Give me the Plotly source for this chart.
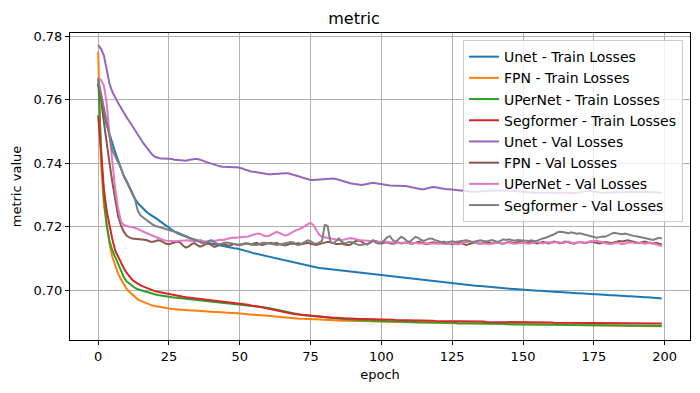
import plotly.graph_objects as go

epochs = list(range(200))

unet_train = [
0.7650, 0.7600, 0.7560, 0.7520, 0.7490, 0.7460, 0.7435, 0.7410, 0.7385, 0.7360,
0.7345, 0.7325, 0.7305, 0.7288, 0.7274, 0.7264, 0.7255, 0.7247, 0.7240, 0.7235,
0.7230, 0.7223, 0.7216, 0.7209, 0.7202, 0.7195, 0.7189, 0.7184, 0.7179, 0.7175,
0.7171, 0.7168, 0.7165, 0.7162, 0.7159, 0.7157, 0.7155, 0.7152, 0.7150, 0.7148,
0.7146, 0.7144, 0.7142, 0.7140, 0.7138, 0.7137, 0.7135, 0.7134, 0.7132, 0.7131,
0.7129, 0.7126, 0.7124, 0.7121, 0.7119, 0.7116, 0.7114, 0.7111, 0.7109, 0.7107,
0.7105, 0.7102, 0.7100, 0.7098, 0.7096, 0.7094, 0.7092, 0.7090, 0.7088, 0.7086,
0.7084, 0.7082, 0.7080, 0.7078, 0.7076, 0.7074, 0.7073, 0.7072, 0.7070, 0.7069,
0.7068, 0.7067, 0.7065, 0.7064, 0.7063, 0.7062, 0.7061, 0.7059, 0.7058, 0.7057,
0.7056, 0.7055, 0.7054, 0.7053, 0.7052, 0.7051, 0.7050, 0.7049, 0.7048, 0.7047,
0.7046, 0.7045, 0.7044, 0.7043, 0.7042, 0.7041, 0.7040, 0.7039, 0.7038, 0.7037,
0.7036, 0.7035, 0.7034, 0.7033, 0.7032, 0.7031, 0.7030, 0.7029, 0.7028, 0.7027,
0.7026, 0.7025, 0.7024, 0.7023, 0.7022, 0.7021, 0.7020, 0.7019, 0.7018, 0.7018,
0.7017, 0.7016, 0.7015, 0.7014, 0.7013, 0.7013, 0.7012, 0.7011, 0.7010, 0.7009,
0.7009, 0.7008, 0.7007, 0.7006, 0.7006, 0.7005, 0.7004, 0.7004, 0.7003, 0.7002,
0.7002, 0.7001, 0.7000, 0.7000, 0.6999, 0.6998, 0.6998, 0.6997, 0.6997, 0.6996,
0.6995, 0.6995, 0.6994, 0.6994, 0.6993, 0.6993, 0.6992, 0.6991, 0.6991, 0.6990,
0.6990, 0.6989, 0.6989, 0.6988, 0.6988, 0.6987, 0.6987, 0.6986, 0.6986, 0.6985,
0.6985, 0.6984, 0.6984, 0.6983, 0.6983, 0.6982, 0.6982, 0.6981, 0.6981, 0.6980,
0.6980, 0.6979, 0.6979, 0.6978, 0.6978, 0.6977, 0.6977, 0.6976, 0.6975, 0.6974,
]

fpn_train = [
0.7750, 0.7400, 0.7270, 0.7200, 0.7145, 0.7105, 0.7075, 0.7053, 0.7035, 0.7018,
0.7005, 0.6995, 0.6986, 0.6978, 0.6971, 0.6966, 0.6962, 0.6958, 0.6955, 0.6952,
0.6950, 0.6948, 0.6946, 0.6944, 0.6943, 0.6942, 0.6941, 0.6940, 0.6940, 0.6939,
0.6938, 0.6938, 0.6937, 0.6936, 0.6936, 0.6935, 0.6934, 0.6934, 0.6933, 0.6933,
0.6932, 0.6931, 0.6931, 0.6930, 0.6930, 0.6929, 0.6929, 0.6928, 0.6928, 0.6927,
0.6927, 0.6926, 0.6925, 0.6925, 0.6924, 0.6923, 0.6922, 0.6921, 0.6921, 0.6920,
0.6919, 0.6918, 0.6917, 0.6916, 0.6915, 0.6914, 0.6913, 0.6912, 0.6912, 0.6911,
0.6911, 0.6910, 0.6910, 0.6909, 0.6909, 0.6908, 0.6908, 0.6908, 0.6907, 0.6907,
0.6906, 0.6906, 0.6906, 0.6905, 0.6905, 0.6905, 0.6904, 0.6904, 0.6904, 0.6903,
0.6903, 0.6903, 0.6903, 0.6902, 0.6902, 0.6902, 0.6902, 0.6901, 0.6901, 0.6901,
0.6901, 0.6901, 0.6900, 0.6900, 0.6900, 0.6900, 0.6900, 0.6899, 0.6899, 0.6899,
0.6899, 0.6899, 0.6898, 0.6899, 0.6898, 0.6898, 0.6898, 0.6897, 0.6898, 0.6897,
0.6897, 0.6897, 0.6896, 0.6897, 0.6896, 0.6896, 0.6896, 0.6895, 0.6896, 0.6895,
0.6896, 0.6896, 0.6896, 0.6895, 0.6896, 0.6895, 0.6895, 0.6895, 0.6895, 0.6894,
0.6895, 0.6894, 0.6894, 0.6894, 0.6894, 0.6893, 0.6894, 0.6893, 0.6893, 0.6893,
0.6893, 0.6893, 0.6892, 0.6893, 0.6892, 0.6892, 0.6892, 0.6892, 0.6891, 0.6892,
0.6891, 0.6891, 0.6891, 0.6891, 0.6891, 0.6890, 0.6891, 0.6890, 0.6890, 0.6890,
0.6890, 0.6890, 0.6889, 0.6890, 0.6889, 0.6889, 0.6889, 0.6889, 0.6889, 0.6888,
0.6889, 0.6888, 0.6888, 0.6888, 0.6888, 0.6888, 0.6888, 0.6887, 0.6888, 0.6887,
0.6887, 0.6887, 0.6887, 0.6887, 0.6887, 0.6886, 0.6887, 0.6886, 0.6886, 0.6886,
]

upernet_train = [
0.7670, 0.7450, 0.7290, 0.7205, 0.7155, 0.7125, 0.7105, 0.7085, 0.7062, 0.7042,
0.7028, 0.7020, 0.7013, 0.7007, 0.7003, 0.7000, 0.6997, 0.6994, 0.6991, 0.6989,
0.6987, 0.6985, 0.6983, 0.6981, 0.6980, 0.6979, 0.6978, 0.6977, 0.6976, 0.6975,
0.6974, 0.6973, 0.6972, 0.6971, 0.6970, 0.6969, 0.6968, 0.6967, 0.6966, 0.6966,
0.6965, 0.6964, 0.6963, 0.6962, 0.6961, 0.6960, 0.6959, 0.6958, 0.6957, 0.6957,
0.6956, 0.6955, 0.6954, 0.6953, 0.6952, 0.6951, 0.6950, 0.6949, 0.6948, 0.6946,
0.6944, 0.6942, 0.6940, 0.6938, 0.6935, 0.6933, 0.6931, 0.6929, 0.6927, 0.6926,
0.6925, 0.6923, 0.6922, 0.6921, 0.6920, 0.6919, 0.6917, 0.6916, 0.6915, 0.6914,
0.6913, 0.6912, 0.6912, 0.6911, 0.6910, 0.6909, 0.6909, 0.6908, 0.6908, 0.6907,
0.6907, 0.6906, 0.6906, 0.6905, 0.6905, 0.6905, 0.6904, 0.6904, 0.6904, 0.6903,
0.6903, 0.6903, 0.6902, 0.6902, 0.6902, 0.6901, 0.6901, 0.6901, 0.6901, 0.6900,
0.6900, 0.6900, 0.6900, 0.6899, 0.6899, 0.6899, 0.6899, 0.6898, 0.6898, 0.6898,
0.6898, 0.6898, 0.6897, 0.6897, 0.6897, 0.6897, 0.6897, 0.6896, 0.6896, 0.6896,
0.6896, 0.6896, 0.6895, 0.6895, 0.6895, 0.6895, 0.6895, 0.6895, 0.6894, 0.6894,
0.6894, 0.6894, 0.6894, 0.6894, 0.6893, 0.6893, 0.6893, 0.6893, 0.6893, 0.6893,
0.6893, 0.6892, 0.6892, 0.6892, 0.6892, 0.6892, 0.6892, 0.6892, 0.6891, 0.6891,
0.6891, 0.6891, 0.6891, 0.6891, 0.6891, 0.6891, 0.6890, 0.6890, 0.6890, 0.6890,
0.6890, 0.6890, 0.6890, 0.6890, 0.6890, 0.6889, 0.6889, 0.6889, 0.6889, 0.6889,
0.6889, 0.6889, 0.6889, 0.6889, 0.6889, 0.6889, 0.6888, 0.6888, 0.6888, 0.6888,
0.6888, 0.6888, 0.6888, 0.6888, 0.6888, 0.6888, 0.6888, 0.6888, 0.6888, 0.6888,
]

segformer_train = [
0.7550, 0.7420, 0.7320, 0.7250, 0.7200, 0.7160, 0.7125, 0.7105, 0.7088, 0.7070,
0.7055, 0.7042, 0.7033, 0.7026, 0.7020, 0.7015, 0.7011, 0.7007, 0.7003, 0.7000,
0.6997, 0.6995, 0.6993, 0.6991, 0.6989, 0.6987, 0.6985, 0.6984, 0.6982, 0.6981,
0.6979, 0.6978, 0.6977, 0.6975, 0.6974, 0.6973, 0.6972, 0.6971, 0.6970, 0.6969,
0.6968, 0.6967, 0.6966, 0.6965, 0.6964, 0.6963, 0.6962, 0.6961, 0.6960, 0.6959,
0.6958, 0.6957, 0.6955, 0.6954, 0.6952, 0.6951, 0.6949, 0.6948, 0.6946, 0.6944,
0.6942, 0.6940, 0.6938, 0.6936, 0.6933, 0.6931, 0.6929, 0.6928, 0.6926, 0.6925,
0.6924, 0.6923, 0.6922, 0.6921, 0.6920, 0.6919, 0.6918, 0.6917, 0.6916, 0.6915,
0.6915, 0.6914, 0.6914, 0.6913, 0.6913, 0.6912, 0.6912, 0.6911, 0.6911, 0.6911,
0.6910, 0.6910, 0.6910, 0.6909, 0.6909, 0.6909, 0.6909, 0.6908, 0.6908, 0.6908,
0.6908, 0.6907, 0.6907, 0.6907, 0.6907, 0.6906, 0.6906, 0.6906, 0.6906, 0.6905,
0.6905, 0.6905, 0.6905, 0.6905, 0.6904, 0.6904, 0.6904, 0.6904, 0.6904, 0.6903,
0.6903, 0.6903, 0.6903, 0.6903, 0.6903, 0.6902, 0.6902, 0.6902, 0.6902, 0.6902,
0.6902, 0.6901, 0.6901, 0.6901, 0.6901, 0.6901, 0.6901, 0.6900, 0.6900, 0.6900,
0.6900, 0.6900, 0.6900, 0.6900, 0.6899, 0.6899, 0.6899, 0.6899, 0.6899, 0.6899,
0.6899, 0.6899, 0.6898, 0.6898, 0.6898, 0.6898, 0.6898, 0.6898, 0.6898, 0.6898,
0.6898, 0.6897, 0.6897, 0.6897, 0.6897, 0.6897, 0.6897, 0.6897, 0.6897, 0.6897,
0.6897, 0.6897, 0.6897, 0.6897, 0.6897, 0.6896, 0.6896, 0.6896, 0.6896, 0.6896,
0.6896, 0.6896, 0.6896, 0.6896, 0.6896, 0.6896, 0.6896, 0.6896, 0.6896, 0.6896,
0.6896, 0.6896, 0.6896, 0.6896, 0.6896, 0.6896, 0.6896, 0.6895, 0.6895, 0.6895,
]

unet_val = [
0.7772, 0.7760, 0.7740, 0.7690, 0.7650, 0.7625, 0.7605, 0.7590, 0.7575, 0.7558,
0.7545, 0.7532, 0.7519, 0.7505, 0.7490, 0.7476, 0.7462, 0.7450, 0.7438, 0.7428,
0.7420, 0.7417, 0.7415, 0.7415, 0.7415, 0.7414, 0.7413, 0.7411, 0.7410, 0.7409,
0.7408, 0.7408, 0.7410, 0.7412, 0.7413, 0.7413, 0.7411, 0.7408, 0.7404, 0.7401,
0.7398, 0.7395, 0.7392, 0.7390, 0.7389, 0.7388, 0.7387, 0.7387, 0.7387, 0.7387,
0.7386, 0.7383, 0.7379, 0.7376, 0.7374, 0.7373, 0.7371, 0.7369, 0.7367, 0.7366,
0.7365, 0.7365, 0.7366, 0.7367, 0.7368, 0.7368, 0.7368, 0.7368, 0.7366, 0.7363,
0.7360, 0.7358, 0.7355, 0.7352, 0.7349, 0.7347, 0.7347, 0.7348, 0.7349, 0.7349,
0.7350, 0.7351, 0.7352, 0.7352, 0.7350, 0.7347, 0.7344, 0.7341, 0.7339, 0.7337,
0.7335, 0.7333, 0.7331, 0.7331, 0.7333, 0.7335, 0.7337, 0.7338, 0.7337, 0.7335,
0.7333, 0.7331, 0.7331, 0.7330, 0.7330, 0.7329, 0.7328, 0.7328, 0.7328, 0.7327,
0.7325, 0.7323, 0.7321, 0.7319, 0.7318, 0.7318, 0.7320, 0.7323, 0.7325, 0.7324,
0.7322, 0.7320, 0.7318, 0.7318, 0.7318, 0.7317, 0.7315, 0.7313, 0.7312, 0.7311,
0.7310, 0.7310, 0.7310, 0.7310, 0.7310, 0.7311, 0.7312, 0.7312, 0.7313, 0.7314,
0.7314, 0.7314, 0.7314, 0.7313, 0.7313, 0.7313, 0.7313, 0.7312, 0.7311, 0.7310,
0.7309, 0.7309, 0.7308, 0.7308, 0.7307, 0.7307, 0.7307, 0.7307, 0.7306, 0.7306,
0.7306, 0.7306, 0.7305, 0.7305, 0.7305, 0.7305, 0.7305, 0.7305, 0.7305, 0.7306,
0.7308, 0.7310, 0.7312, 0.7313, 0.7312, 0.7310, 0.7309, 0.7308, 0.7307, 0.7307,
0.7307, 0.7307, 0.7307, 0.7308, 0.7308, 0.7309, 0.7309, 0.7310, 0.7310, 0.7310,
0.7310, 0.7310, 0.7310, 0.7310, 0.7309, 0.7309, 0.7308, 0.7308, 0.7307, 0.7307,
]

fpn_val = [
0.7650, 0.7600, 0.7530, 0.7460, 0.7400, 0.7340, 0.7280, 0.7235, 0.7205, 0.7185,
0.7172, 0.7166, 0.7163, 0.7162, 0.7162, 0.7160, 0.7161, 0.7158, 0.7154, 0.7152,
0.7154, 0.7157, 0.7156, 0.7151, 0.7146, 0.7145, 0.7148, 0.7152, 0.7153, 0.7150,
0.7140, 0.7134, 0.7138, 0.7145, 0.7148, 0.7142, 0.7137, 0.7140, 0.7146, 0.7147,
0.7141, 0.7136, 0.7139, 0.7145, 0.7146, 0.7143, 0.7140, 0.7142, 0.7145, 0.7143,
0.7142, 0.7144, 0.7147, 0.7146, 0.7143, 0.7147, 0.7149, 0.7144, 0.7142, 0.7145,
0.7148, 0.7149, 0.7146, 0.7149, 0.7145, 0.7142, 0.7141, 0.7144, 0.7147, 0.7146,
0.7147, 0.7148, 0.7145, 0.7147, 0.7149, 0.7146, 0.7143, 0.7142, 0.7145, 0.7148,
0.7150, 0.7152, 0.7152, 0.7148, 0.7145, 0.7145, 0.7147, 0.7144, 0.7142, 0.7143,
0.7150, 0.7155, 0.7157, 0.7153, 0.7146, 0.7145, 0.7149, 0.7156, 0.7155, 0.7150,
0.7147, 0.7149, 0.7151, 0.7148, 0.7146, 0.7148, 0.7150, 0.7147, 0.7149, 0.7151,
0.7148, 0.7146, 0.7149, 0.7152, 0.7150, 0.7147, 0.7145, 0.7148, 0.7151, 0.7149,
0.7147, 0.7150, 0.7152, 0.7149, 0.7146, 0.7144, 0.7147, 0.7150, 0.7148, 0.7145,
0.7142, 0.7145, 0.7149, 0.7151, 0.7148, 0.7146, 0.7149, 0.7152, 0.7150, 0.7147,
0.7149, 0.7151, 0.7148, 0.7146, 0.7149, 0.7152, 0.7150, 0.7148, 0.7151, 0.7153,
0.7150, 0.7148, 0.7151, 0.7153, 0.7150, 0.7147, 0.7149, 0.7152, 0.7150, 0.7147,
0.7150, 0.7153, 0.7151, 0.7148, 0.7150, 0.7153, 0.7151, 0.7148, 0.7146, 0.7149,
0.7152, 0.7150, 0.7148, 0.7151, 0.7153, 0.7151, 0.7149, 0.7147, 0.7150, 0.7152,
0.7150, 0.7148, 0.7150, 0.7153, 0.7155, 0.7153, 0.7156, 0.7157, 0.7155, 0.7152,
0.7150, 0.7148, 0.7151, 0.7153, 0.7150, 0.7148, 0.7147, 0.7149, 0.7146, 0.7144,
]

upernet_val = [
0.7670, 0.7662, 0.7645, 0.7590, 0.7490, 0.7400, 0.7320, 0.7260, 0.7218, 0.7205,
0.7202, 0.7200, 0.7199, 0.7197, 0.7193, 0.7188, 0.7183, 0.7180, 0.7176, 0.7172,
0.7168, 0.7164, 0.7161, 0.7158, 0.7156, 0.7155, 0.7154, 0.7154, 0.7155, 0.7156,
0.7157, 0.7158, 0.7157, 0.7155, 0.7154, 0.7156, 0.7158, 0.7155, 0.7153, 0.7154,
0.7156, 0.7155, 0.7157, 0.7159, 0.7157, 0.7160, 0.7163, 0.7165, 0.7166, 0.7165,
0.7167, 0.7168, 0.7167, 0.7169, 0.7172, 0.7175, 0.7178, 0.7178, 0.7174, 0.7170,
0.7170, 0.7175, 0.7180, 0.7184, 0.7180, 0.7175, 0.7172, 0.7174, 0.7180, 0.7186,
0.7190, 0.7192, 0.7196, 0.7202, 0.7208, 0.7212, 0.7205, 0.7190, 0.7175, 0.7168,
0.7166, 0.7164, 0.7163, 0.7162, 0.7160, 0.7158, 0.7157, 0.7159, 0.7162, 0.7164,
0.7163, 0.7160, 0.7158, 0.7157, 0.7156, 0.7157, 0.7155, 0.7153, 0.7152, 0.7153,
0.7152, 0.7153, 0.7152, 0.7150, 0.7151, 0.7150, 0.7148, 0.7149, 0.7150, 0.7149,
0.7147, 0.7148, 0.7149, 0.7147, 0.7146, 0.7147, 0.7148, 0.7146, 0.7147, 0.7148,
0.7147, 0.7146, 0.7147, 0.7145, 0.7146, 0.7148, 0.7146, 0.7144, 0.7147, 0.7150,
0.7152, 0.7153, 0.7151, 0.7149, 0.7147, 0.7146, 0.7148, 0.7147, 0.7145, 0.7147,
0.7149, 0.7150, 0.7148, 0.7146, 0.7149, 0.7151, 0.7148, 0.7146, 0.7147, 0.7149,
0.7150, 0.7148, 0.7146, 0.7148, 0.7151, 0.7152, 0.7149, 0.7147, 0.7150, 0.7151,
0.7149, 0.7150, 0.7152, 0.7150, 0.7148, 0.7151, 0.7153, 0.7150, 0.7148, 0.7150,
0.7152, 0.7151, 0.7149, 0.7152, 0.7155, 0.7154, 0.7156, 0.7153, 0.7150, 0.7148,
0.7146, 0.7145, 0.7148, 0.7150, 0.7148, 0.7145, 0.7147, 0.7150, 0.7151, 0.7149,
0.7148, 0.7150, 0.7149, 0.7146, 0.7148, 0.7150, 0.7147, 0.7144, 0.7140, 0.7139,
]

segformer_val = [
0.7665, 0.7620, 0.7565, 0.7520, 0.7475, 0.7440, 0.7422, 0.7405, 0.7385, 0.7360,
0.7342, 0.7325, 0.7305, 0.7285, 0.7250, 0.7235, 0.7228, 0.7221, 0.7214, 0.7208,
0.7203, 0.7200, 0.7198, 0.7195, 0.7192, 0.7189, 0.7186, 0.7184, 0.7182, 0.7178,
0.7174, 0.7170, 0.7164, 0.7160, 0.7158, 0.7155, 0.7150, 0.7147, 0.7150, 0.7155,
0.7157, 0.7152, 0.7146, 0.7145, 0.7147, 0.7150, 0.7149, 0.7147, 0.7145, 0.7144,
0.7144, 0.7146, 0.7148, 0.7147, 0.7144, 0.7142, 0.7142, 0.7145, 0.7149, 0.7149,
0.7147, 0.7144, 0.7142, 0.7142, 0.7144, 0.7146, 0.7146, 0.7148, 0.7152, 0.7150,
0.7143, 0.7142, 0.7146, 0.7152, 0.7157, 0.7154, 0.7148, 0.7146, 0.7150, 0.7155,
0.7205, 0.7203, 0.7150, 0.7148, 0.7155, 0.7163, 0.7152, 0.7147, 0.7150, 0.7152,
0.7150, 0.7146, 0.7142, 0.7142, 0.7145, 0.7144, 0.7150, 0.7157, 0.7150, 0.7146,
0.7148, 0.7158, 0.7166, 0.7170, 0.7158, 0.7152, 0.7160, 0.7168, 0.7163, 0.7155,
0.7152, 0.7160, 0.7168, 0.7165, 0.7158, 0.7155, 0.7158, 0.7163, 0.7162, 0.7157,
0.7155, 0.7151, 0.7149, 0.7150, 0.7152, 0.7154, 0.7152, 0.7153, 0.7156, 0.7157,
0.7157, 0.7155, 0.7152, 0.7153, 0.7156, 0.7157, 0.7155, 0.7153, 0.7156, 0.7158,
0.7155, 0.7152, 0.7155, 0.7160, 0.7158, 0.7160, 0.7158, 0.7156, 0.7158, 0.7157,
0.7157, 0.7156, 0.7155, 0.7157, 0.7154, 0.7156, 0.7160, 0.7163, 0.7165, 0.7168,
0.7172, 0.7176, 0.7182, 0.7184, 0.7183, 0.7180, 0.7179, 0.7182, 0.7180, 0.7178,
0.7179, 0.7176, 0.7174, 0.7172, 0.7170, 0.7167, 0.7165, 0.7167, 0.7169, 0.7168,
0.7172, 0.7178, 0.7181, 0.7179, 0.7177, 0.7176, 0.7178, 0.7175, 0.7173, 0.7171,
0.7170, 0.7168, 0.7167, 0.7165, 0.7163, 0.7160, 0.7158, 0.7162, 0.7165, 0.7163,
]

series_names = [
    "Unet - Train Losses", "FPN - Train Losses", "UPerNet - Train Losses", "Segformer - Train Losses",
    "Unet - Val Losses", "FPN - Val Losses", "UPerNet - Val Losses", "Segformer - Val Losses",
]
series_values = [unet_train, fpn_train, upernet_train, segformer_train,
                 unet_val, fpn_val, upernet_val, segformer_val]
colors = ["#1f77b4", "#ff7f0e", "#2ca02c", "#d62728",
          "#9467bd", "#8c564b", "#e377c2", "#7f7f7f"]

x_ticks = [0, 25, 50, 75, 100, 125, 150, 175, 200]
y_ticks = [0.70, 0.72, 0.74, 0.76, 0.78]

fig = go.Figure()
for name, vals, col in zip(series_names, series_values, colors):
    fig.add_trace(go.Scatter(x=epochs, y=vals, mode="lines", name=name,
                             line=dict(color=col, width=2)))

axis_common = dict(
    showline=True, mirror=True, linecolor="black", linewidth=1,
    ticks="outside", ticklen=4, tickcolor="black", tickwidth=1,
    showgrid=True, gridcolor="#b0b0b0", gridwidth=1, zeroline=False,
    automargin=False,
    tickfont=dict(family="DejaVu Sans", size=13, color="black"),
    title_font=dict(family="DejaVu Sans", size=13, color="black"),
)

# page has an 8px body margin, so the figure is 692x385 placed at (8, 8)
fig.update_layout(
    width=692, height=385,
    paper_bgcolor="white", plot_bgcolor="white",
    margin=dict(l=62, r=10, t=25, b=53),
    title=dict(text="metric", x=0.5, xanchor="center", y=0.974, yanchor="middle",
               font=dict(family="DejaVu Sans", size=16, color="black")),
    font=dict(family="DejaVu Sans", size=13, color="black"),
    xaxis=dict(range=[-9.95, 208.95], tickvals=x_ticks, title=dict(text="epoch", standoff=7), **axis_common),
    yaxis=dict(range=[0.6843, 0.7810], tickvals=y_ticks, tickformat=".2f",
               title=dict(text="metric value", standoff=8), **axis_common),
    legend=dict(x=0.9887, xanchor="right", y=0.977, yanchor="top",
                bgcolor="rgba(255,255,255,0.8)", bordercolor="#cccccc", borderwidth=1,
                font=dict(family="DejaVu Sans", size=14, color="black"),
                tracegroupgap=0, itemwidth=30),
    showlegend=True,
)

fig.write_html("out.html")
